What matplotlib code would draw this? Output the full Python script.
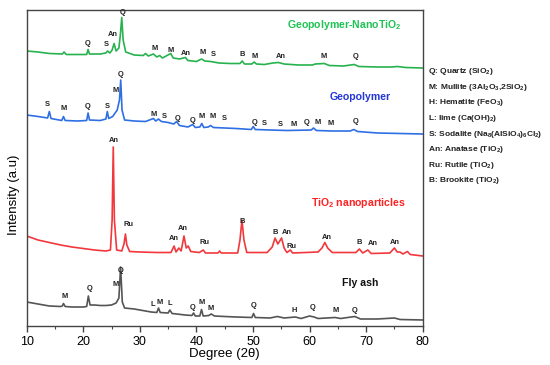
import matplotlib
matplotlib.use("Agg")
import matplotlib.pyplot as plt

plt.rcParams['font.family'] = ['Liberation Sans', 'DejaVu Sans']
plt.rcParams['mathtext.fontset'] = 'custom'
plt.rcParams['mathtext.bf'] = 'Liberation Sans:bold'
plt.rcParams['mathtext.rm'] = 'Liberation Sans'
plt.rcParams['mathtext.default'] = 'bf'

# --- XRD traces (2theta, intensity a.u.) ---
fly_x = [10, 12, 14, 16, 16.3, 16.5, 16.8, 18, 20, 20.6, 20.9, 21.2, 22, 23, 24, 25, 25.8, 26.3,
         26.6, 26.9, 27.3, 29, 31, 32, 33.0, 33.3, 33.6, 35.0, 35.3, 35.7, 36.5, 38, 39.2, 39.5,
         39.8, 40.6, 40.9, 41.2, 42.2, 42.6, 43.2, 45, 47, 49.8, 50.1, 50.4, 53, 54.3, 55.5, 57.5,
         58.5, 60.0, 60.8, 61.5, 64.5, 65.5, 68.0, 69, 72, 75, 76, 80]
fly_y = [24, 22, 20, 19.5, 20, 22.5, 19.5, 19, 19, 19.5, 30, 21, 21, 20.5, 20.5, 21, 23, 28,
         59, 24, 18, 17, 15, 14, 13.5, 18, 13.5, 13, 16, 12.5, 12, 11, 10.5, 13,
         10, 10, 16.5, 10, 10.5, 12, 10, 9.5, 9, 8.5, 12.5, 8.5, 8, 9.5, 8, 9,
         7.5, 10, 9, 7.5, 8.5, 7.5, 9.5, 7, 7, 8, 6.5, 6]

tio2_x = [10, 12, 14, 16, 18, 20, 22, 24, 24.8, 25.1, 25.3, 25.5, 25.9, 26.8, 27.2, 27.45, 27.7,
          28.2, 30, 33, 35.5, 36.05, 36.4, 36.9, 37.3, 37.8, 38.2, 38.55, 39.0, 40.5, 41.2, 41.6,
          43.8, 44.1, 44.4, 47.3, 47.7, 48.05, 48.4, 48.9, 52.5, 53.4, 53.9, 54.4, 55.05, 55.5,
          56.0, 56.6, 57.0, 61.5, 62.2, 62.7, 63.2, 64.0, 68.2, 68.8, 69.4, 70.3, 70.9, 74.2,
          75.0, 75.5, 76.0, 76.5, 77.3, 77.8, 80]
tio2_y = [90, 86, 83.5, 81, 79, 77.5, 76, 75, 76, 106, 179, 106, 76, 75, 82, 92, 81,
          74.5, 74, 73.5, 73.5, 80, 74, 78, 75, 90, 78, 80, 74.5, 73.5, 76, 73,
          73, 75, 73, 73, 86, 106, 86, 73.5, 73.5, 79, 88, 82, 88, 78,
          73.5, 76, 73, 74, 78, 83.5, 78, 73.5, 73.5, 77, 73, 76, 72.5, 73,
          78, 74, 74, 72, 74.5, 71.5, 70]

geo_x = [10, 12, 13.7, 14.0, 14.3, 16.2, 16.5, 16.8, 19, 20.6, 20.85, 21.1, 23, 24.0, 24.25, 24.5,
         25.2, 26.0, 26.4, 26.62, 26.85, 27.3, 29, 31, 32.4, 32.8, 33.3, 33.8, 35.0, 36.0, 36.5,
         37.0, 38.5, 39.35, 39.8, 40.6, 40.95, 41.3, 42.1, 42.5, 43.0, 45, 47, 49.7, 50.05, 50.4,
         53, 56, 60.3, 60.7, 61.2, 64, 67.2, 67.8, 68.5, 72, 76, 80]
geo_y = [211, 209.5, 208, 214.5, 207.5, 205.5, 209.5, 205.5, 205, 205.5, 213, 206, 205.5, 207, 214.5, 207.5,
         209.5, 216, 226, 246, 216, 206, 205, 204.5, 207.5, 205, 207, 204.5, 203.5, 202, 204.5,
         200.5, 199, 201.5, 198.5, 199, 202.5, 198.5, 199, 200.5, 198.5, 198, 197.5, 196.5, 199.5, 196.5,
         196, 195.5, 196, 198, 195.5, 195, 195, 196.5, 194.5, 193, 192.5, 192]

nano_x = [10, 12, 14, 16.3, 16.6, 17, 19, 20.6, 20.85, 21.1, 23, 24.0, 24.3, 24.7, 25.1, 25.45, 25.8,
          26.3, 26.55, 26.8, 27.05, 27.5, 29, 30.6, 31.0, 31.5, 32.4, 33.0, 33.5, 34.0, 35.45, 35.9,
          37.0, 38.05, 38.5, 40.0, 40.9, 41.5, 42.5, 44, 46, 47.7, 48.1, 48.5, 49.8, 50.2, 50.6, 52,
          53.5, 54.5, 55.5, 58, 60.5, 61, 62.6, 63.5, 66, 67.9, 68.7, 72, 74.5, 75.5, 77, 80]
nano_y = [275, 274, 272.5, 272, 274, 271.5, 271.5, 271.5, 276.5, 272, 272, 273, 275, 273, 276, 282.5, 275,
          278, 291, 308.5, 286, 274, 271, 270.5, 272.5, 270, 272, 269, 270.5, 268, 272.5, 268,
          267, 268.5, 265.5, 264.5, 267, 265, 264.5, 263, 262.5, 262.5, 265, 262, 262, 264, 262, 261.5,
          263, 263.5, 262, 261, 261, 262, 262.5, 260.5, 260, 261.5, 259.5, 259, 259, 259.5, 258.5, 258]

# phase labels: (text, 2theta, height)
nano_labels = [('Q', 20.78, 282.7), ('S', 24.02, 281.7), ('An', 25.31, 291), ('Q', 26.9, 313.3),
               ('M', 32.56, 277.7), ('M', 35.46, 276), ('An', 38.11, 272.7), ('M', 41.04, 273),
               ('S', 42.99, 271), ('B', 48.11, 272), ('M', 50.36, 270), ('An', 54.9, 270),
               ('M', 62.56, 269), ('Q', 68.16, 269)]
geo_labels = [('S', 13.64, 221.7), ('M', 16.47, 217), ('Q', 20.71, 220), ('S', 24.32, 219.3),
              ('M', 25.73, 236), ('Q', 26.67, 252), ('M', 32.5, 212), ('S', 34.27, 209.3),
              ('Q', 36.62, 207.7), ('Q', 39.34, 205.3), ('M', 40.94, 209.3), ('M', 42.88, 209),
              ('S', 44.88, 207.3), ('Q', 50.36, 204), ('S', 52.0, 202.7), ('S', 54.78, 202),
              ('M', 57.13, 201), ('Q', 59.5, 204), ('M', 61.37, 203.3), ('M', 63.74, 202.7),
              ('Q', 68.16, 204.3)]
tio2_labels = [('An', 25.43, 186), ('Ru', 27.96, 101), ('An', 35.92, 87), ('An', 37.68, 97),
               ('Ru', 41.4, 83.7), ('B', 48.11, 104.3), ('B', 53.89, 93.3), ('An', 55.96, 93.3),
               ('Ru', 56.84, 79.3), ('An', 63.03, 88.7), ('B', 68.79, 83.7), ('An', 71.16, 82.7),
               ('An', 75.1, 83.3)]
fly_labels = [('M', 16.77, 29.3), ('Q', 21.07, 37.7), ('M', 25.73, 41), ('Q', 26.67, 56),
              ('L', 32.27, 22), ('M', 33.56, 23.3), ('L', 35.21, 22.7), ('Q', 39.27, 18.3),
              ('M', 40.94, 23.3), ('M', 42.53, 17.7), ('Q', 50.06, 20.3), ('H', 57.3, 15.3),
              ('Q', 60.49, 18.3), ('M', 64.62, 15.3), ('Q', 67.91, 16)]

legend_lines = [r'Q: Quartz (SiO$_2$)', r'M: Mullite (3Al$_2$O$_3$,2SiO$_2$)',
                r'H: Hematite (FeO$_3$)', r'L: lime (Ca(OH)$_2$)',
                r'S: Sodalite (Na$_8$(AlSiO$_4$)$_6$Cl$_2$)', r'An: Anatase (TiO$_2$)',
                r'Ru: Rutile (TiO$_2$)', r'B: Brookite (TiO$_2$)']

c_nano, c_geo, c_tio2, c_fly = '#27b24f', '#2f6fe4', '#f2383c', '#555555'

fig = plt.figure(figsize=(5.5, 3.65), dpi=100)
ax = fig.add_axes([26.7 / 550, 1 - 326 / 365, 396 / 550, 316 / 365])

ax.plot(fly_x, fly_y, color=c_fly, lw=1.2)
ax.plot(tio2_x, tio2_y, color=c_tio2, lw=1.2)
ax.plot(geo_x, geo_y, color=c_geo, lw=1.2)
ax.plot(nano_x, nano_y, color=c_nano, lw=1.2)

for labs in (nano_labels, geo_labels, tio2_labels, fly_labels):
    for t, x, y in labs:
        ax.text(x, y, t, fontsize=5.4, fontweight='bold', ha='center', va='center', color='#222222')

ax.text(66.2, 301, r'Geopolymer-NanoTiO$_2$', color='#1fc254', fontsize=7.6, fontweight='bold',
        ha='center', va='center')
ax.text(69.0, 229, 'Geopolymer', color='#2236d6', fontsize=7.6, fontweight='bold',
        ha='center', va='center')
ax.text(68.6, 122.7, r'TiO$_2$ nanoparticles', color='#ff2222', fontsize=7.6, fontweight='bold',
        ha='center', va='center')
ax.text(68.9, 42.7, 'Fly ash', color='#111111', fontsize=7.6, fontweight='bold',
        ha='center', va='center')

ax.set_xlim(10, 80)
ax.set_ylim(0, 316)
ax.set_xticks(range(10, 81, 10))
ax.set_xticks(range(15, 80, 10), minor=True)
ax.set_yticks([])
ax.tick_params(axis='x', which='major', length=4, width=1, labelsize=9, pad=3, color='#444444')
ax.tick_params(axis='x', which='minor', length=2.5, width=0.8, color='#444444')
for s in ax.spines.values():
    s.set_color('#444444')
    s.set_linewidth(1.0)

ax.set_xlabel('Degree (2θ)', fontsize=9.5, labelpad=0)
fig.text(14 / 550, 1 - 195 / 365, 'Intensity (a.u)', rotation=90, fontsize=9.5,
         ha='center', va='center')

for i, line in enumerate(legend_lines):
    py = 71.7 + i * 15.6
    fig.text(427.7 / 550, 1 - py / 365, line, fontsize=6.0, fontweight='bold',
             ha='left', va='center', color='#222222')

fig.savefig('out.png', dpi=100)
